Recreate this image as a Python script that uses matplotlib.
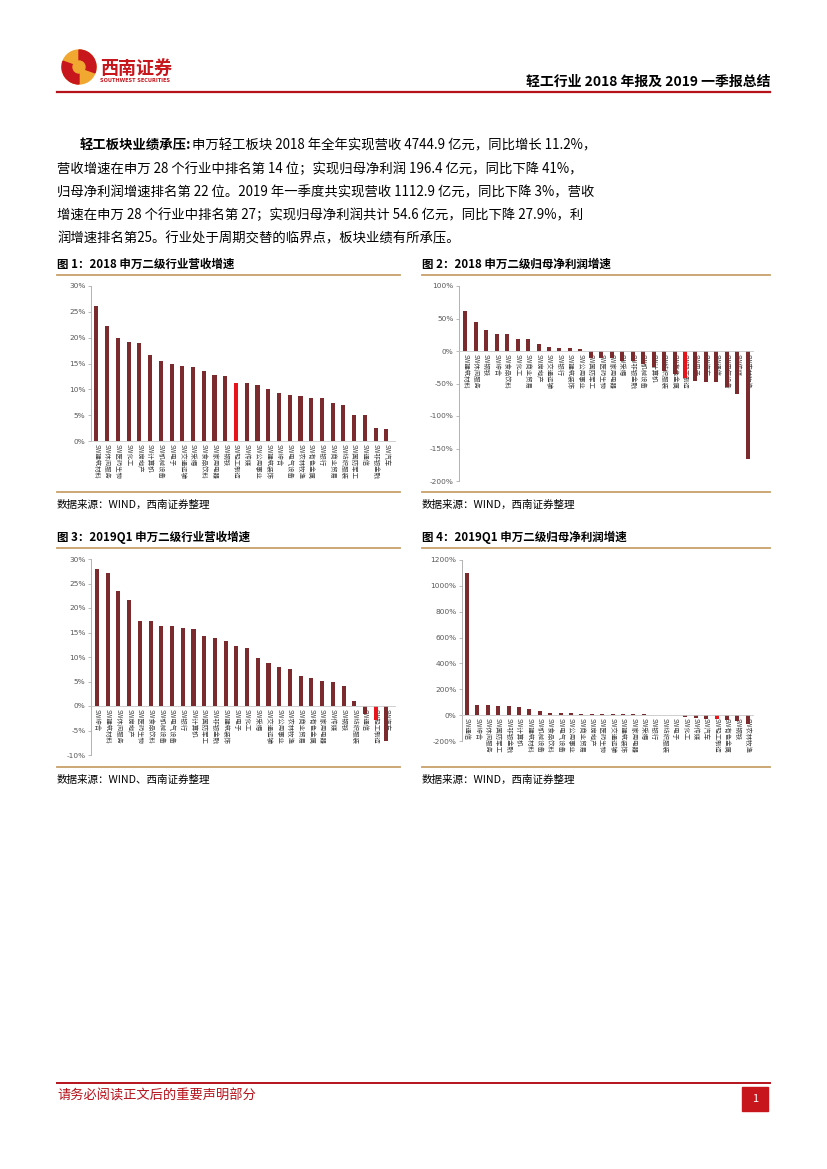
import numpy as np
import matplotlib
matplotlib.use("Agg")
import matplotlib.pyplot as plt
from matplotlib.patches import Circle, Wedge, Rectangle

plt.rcParams['font.family'] = ['Noto Sans CJK SC', 'DejaVu Sans']

# ---- data ----
rev18_labels = ["SW建筑材料", "SW休闲服务", "SW医药生物", "SW化工", "SW房地产", "SW计算机", "SW机械设备",
                "SW电子", "SW交通运输", "SW采掘", "SW食品饮料", "SW家用电器", "SW钢铁", "SW轻工制造",
                "SW传媒", "SW公用事业", "SW建筑装饰", "SW综合", "SW电气设备", "SW农林牧渔", "SW有色金属",
                "SW银行", "SW商业贸易", "SW纺织服装", "SW国防军工", "SW通信", "SW非银金融", "SW汽车"]
rev18_values = [26.2, 22.3, 19.9, 19.1, 18.9, 16.6, 15.5, 14.9, 14.6, 14.4, 13.5, 12.7, 12.5, 11.2,
                11.2, 10.8, 10.0, 9.2, 9.0, 8.8, 8.3, 8.3, 7.3, 6.9, 5.0, 5.0, 2.6, 2.3]

np18_labels = ["SW建筑材料", "SW休闲服务", "SW钢铁", "SW综合", "SW食品饮料", "SW化工", "SW商业贸易",
               "SW房地产", "SW交通运输", "SW银行", "SW建筑装饰", "SW公用事业", "SW国防军工", "SW医药生物",
               "SW家用电器", "SW采掘", "SW非银金融", "SW机械设备", "SW计算机", "SW纺织服装", "SW有色金属",
               "SW轻工制造", "SW电子", "SW汽车", "SW通信", "SW电气设备", "SW传媒", "SW农林牧渔"]
np18_values = [61, 44, 32, 26, 26, 18, 18, 11, 6, 5, 5, 2.5, -10, -10,
               -10, -15, -16, -20, -24, -30, -35, -41, -46, -47, -48, -56, -66, -166]

rev19_labels = ["SW综合", "SW建筑材料", "SW休闲服务", "SW房地产", "SW医药生物", "SW食品饮料", "SW机械设备",
                "SW电气设备", "SW银行", "SW计算机", "SW国防军工", "SW非银金融", "SW建筑装饰", "SW电子",
                "SW化工", "SW采掘", "SW交通运输", "SW公用事业", "SW农林牧渔", "SW商业贸易", "SW有色金属",
                "SW家用电器", "SW传媒", "SW钢铁", "SW纺织服装", "SW通信", "SW轻工制造", "SW汽车"]
rev19_values = [27.9, 27.2, 23.4, 21.6, 17.4, 17.3, 16.4, 16.4, 16.0, 15.8, 14.3, 13.9, 13.2, 12.3,
                11.9, 9.7, 8.8, 8.0, 7.5, 6.2, 5.8, 5.1, 5.0, 4.0, 1.0, -1.6, -2.9, -7.2]

np19_labels = ["SW通信", "SW综合", "SW休闲服务", "SW国防军工", "SW非银金融", "SW计算机", "SW建筑材料",
               "SW机械设备", "SW食品饮料", "SW电气设备", "SW公用事业", "SW商业贸易", "SW房地产", "SW医药生物",
               "SW交通运输", "SW建筑装饰", "SW家用电器", "SW采掘", "SW银行", "SW纺织服装", "SW电子",
               "SW化工", "SW传媒", "SW汽车", "SW轻工制造", "SW有色金属", "SW钢铁", "SW农林牧渔"]
np19_values = [1101, 80, 75, 68, 68, 60, 44, 29, 18, 13, 13, 8, 8, 8,
               5, 5, 5, 5, 3, 2, -2, -14, -20, -26, -30, -36, -45, -66]

HL = "SW轻工制造"
DARK = "#7B2B2E"
RED = "#E8141B"
TAN = "#C9A06A"
W, H = 827, 1169

fig = plt.figure(figsize=(W / 100, H / 100), dpi=100)
bg = fig.add_axes([0, 0, 1, 1])
bg.set_xlim(0, W)
bg.set_ylim(H, 0)
bg.axis("off")


def frac(x0, y_top, x1, y_bot):
    return [x0 / W, 1 - y_bot / H, (x1 - x0) / W, (y_bot - y_top) / H]


def bar_chart(rect, labels, values, ylim, yticks, xlim, zero_axis):
    ax = fig.add_axes(rect)
    ax.patch.set_alpha(0)
    for s in ["top", "right"]:
        ax.spines[s].set_visible(False)
    if zero_axis:
        # move the category axis to the zero line (done before tick setup, it resets them)
        ax.spines["bottom"].set_position(("data", 0))
    x = np.arange(len(values))
    colors = [RED if l == HL else DARK for l in labels]
    ax.bar(x, values, width=0.38, color=colors, zorder=2)
    ax.set_xlim(*xlim)
    ax.set_ylim(*ylim)
    ax.set_yticks(yticks)
    ax.set_yticklabels(["{0}%".format(v) for v in yticks], fontsize=5.3, color="#595959",
                       family="DejaVu Sans")
    ax.set_xticks(x)
    ax.set_xticklabels(labels, rotation=270, fontsize=4.6, color="#404040", ha="center", va="top")
    ax.tick_params(axis="x", length=0, pad=2)
    ax.tick_params(axis="y", length=2, width=0.5, color="#A0A0A0", pad=2)
    ax.spines["left"].set_color("#A6A6A6")
    ax.spines["left"].set_linewidth(0.6)
    ax.spines["bottom"].set_color("#C8C8C8")
    ax.spines["bottom"].set_linewidth(0.6)
    return ax


bar_chart(frac(91, 286, 395, 441), rev18_labels, rev18_values, (0, 30), [0, 5, 10, 15, 20, 25, 30],
          (-0.5, 27.8), False)
bar_chart(frac(459, 286, 753, 481), np18_labels, np18_values, (-200, 100),
          [-200, -150, -100, -50, 0, 50, 100], (-0.6, 27.5), True)
bar_chart(frac(91, 559, 395, 755), rev19_labels, rev19_values, (-10, 30),
          [-10, -5, 0, 5, 10, 15, 20, 25, 30], (-0.56, 27.8), True)
bar_chart(frac(462, 560, 753, 741), np19_labels, np19_values, (-200, 1200),
          [-200, 0, 200, 400, 600, 800, 1000, 1200], (-0.48, 27.5), True)

# ---- header ----
bg.add_patch(Circle((79, 67), 17, color="#F0A830", zorder=2))
bg.add_patch(Wedge((79, 67), 17, 90, 200, color="#C8161D", zorder=3))
bg.add_patch(Wedge((79, 67), 17, 270, 20, color="#C8161D", zorder=3))
bg.add_patch(Circle((79, 67), 6, color="#F0A830", zorder=4))
bg.text(100, 68, "西南证券", fontsize=13, color="#C8161D", fontweight="bold", va="center")
bg.text(100, 81, "SOUTHWEST SECURITIES", fontsize=3.6, color="#C8161D", va="center",
        family="DejaVu Sans", fontweight="bold")
bg.text(770, 82, "轻工行业 2018 年报及 2019 一季报总结", fontsize=10, fontweight="bold",
        ha="right", va="center")
bg.plot([57, 770], [92, 92], color="#B5121B", lw=1.6)

# ---- paragraph ----
fs = 9.6
renderer = fig.canvas.get_renderer()
t = bg.text(80, 145, "轻工板块业绩承压:", fontsize=fs, fontweight="bold", va="center")
bb = t.get_window_extent(renderer)
bg.text(80 + bb.width, 145, "申万轻工板块 2018 年全年实现营收 4744.9 亿元，同比增长 11.2%，",
        fontsize=fs, va="center")
lines = [
    "营收增速在申万 28 个行业中排名第 14 位；实现归母净利润 196.4 亿元，同比下降 41%，",
    "归母净利润增速排名第 22 位。2019 年一季度共实现营收 1112.9 亿元，同比下降 3%，营收",
    "增速在申万 28 个行业中排名第 27；实现归母净利润共计 54.6 亿元，同比下降 27.9%，利",
    "润增速排名第25。行业处于周期交替的临界点，板块业绩有所承压。",
]
for i, s in enumerate(lines):
    bg.text(57, 169 + i * 23, s, fontsize=fs, va="center")

# ---- figure titles, rules, sources ----
for x0, x1, ty, top, bot, title, src in [
    (57, 400, 264, 275, 492, "图 1：2018 申万二级行业营收增速", "数据来源：WIND，西南证券整理"),
    (422, 770, 264, 275, 492, "图 2：2018 申万二级归母净利润增速", "数据来源：WIND，西南证券整理"),
    (57, 400, 537, 548, 767, "图 3：2019Q1 申万二级行业营收增速", "数据来源：WIND、西南证券整理"),
    (422, 770, 537, 548, 767, "图 4：2019Q1 申万二级归母净利润增速", "数据来源：WIND，西南证券整理"),
]:
    bg.text(x0, ty, title, fontsize=8.3, fontweight="bold", va="center")
    bg.plot([x0, x1], [top, top], color=TAN, lw=1.3)
    bg.plot([x0, x1], [bot, bot], color=TAN, lw=1.3)
    bg.text(x0, bot + 13, src, fontsize=7.6, va="center", style="italic")

# ---- footer ----
bg.plot([57, 770], [1083, 1083], color="#B5121B", lw=1.4)
bg.text(57, 1096, "请务必阅读正文后的重要声明部分", fontsize=9.5, color="#B5121B", va="center")
bg.add_patch(Rectangle((742, 1087), 26, 24, color="#C8161D"))
bg.text(755, 1099, "1", fontsize=8, color="white", ha="center", va="center")

fig.savefig("out.png", dpi=100)
